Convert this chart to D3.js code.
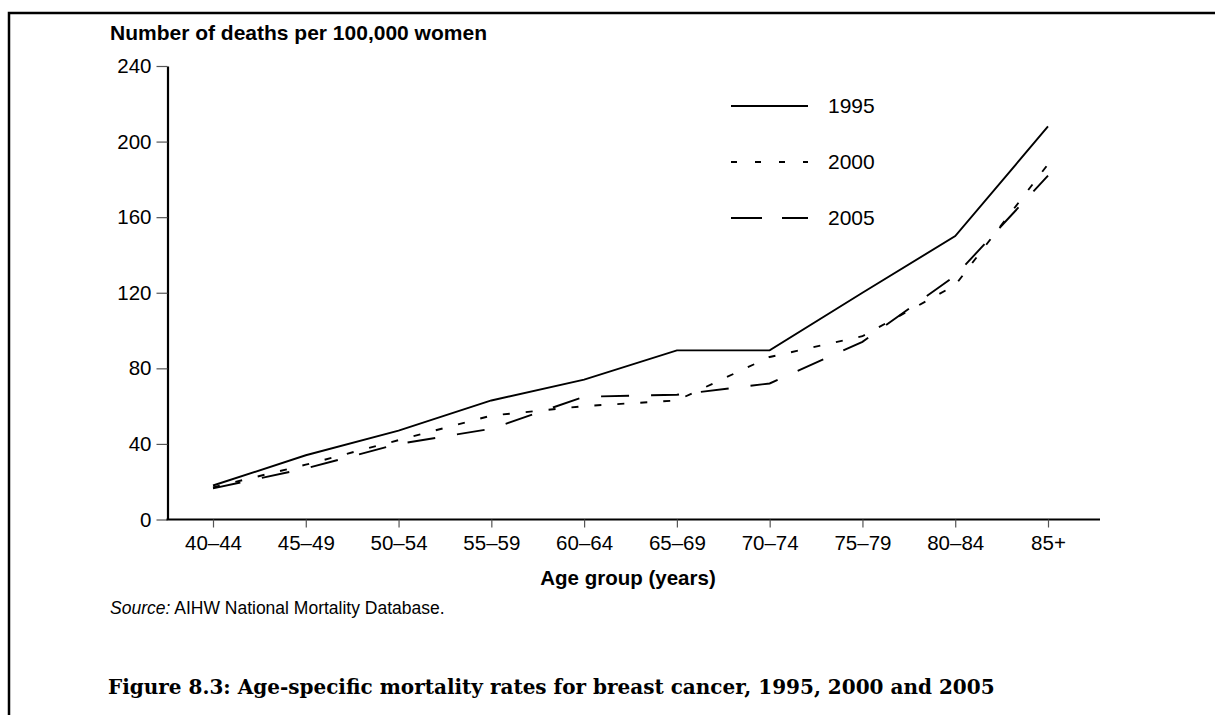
<!DOCTYPE html>
<html>
<head>
<meta charset="utf-8">
<script src="https://cdn.jsdelivr.net/npm/d3@7"></script>
<style>
  html, body { margin: 0; padding: 0; background: #fff; }
  svg { display: block; }
</style>
</head>
<body>
<svg id="chart" width="1215" height="715"></svg>
<script>
// ---- data ----
const ageGroups = ["40–44", "45–49", "50–54", "55–59", "60–64", "65–69", "70–74", "75–79", "80–84", "85+"];
const rates1995 = [18, 34, 47, 63, 74, 89.5, 89.5, 120, 150, 208];
const rates2000 = [17, 29, 42, 55, 60, 63, 86, 97, 124, 188];
const rates2005 = [16.5, 27, 40, 48, 65, 66, 72, 94, 129, 182];
const yTicks = [0, 40, 80, 120, 160, 200, 240];
const seriesNames = ["1995", "2000", "2005"];
const dashStyles = ["none", "7,16", "28,22"];

const series = [rates1995, rates2000, rates2005].map((vals, i) => ({
  name: seriesNames[i], dash: dashStyles[i],
  values: vals.map((v, j) => ({ age: ageGroups[j], v }))
}));

const svg = d3.select("#chart");
const font = "Arial, 'Liberation Sans', sans-serif";

// frame (left + top rule)
svg.append("path")
  .attr("d", d3.line()([[9, 715], [9, 13], [1215, 13]]))
  .attr("fill", "none").attr("stroke", "#000").attr("stroke-width", 2.5);

const axisX0 = 167.5, axisY0 = 519.5;
const x = d3.scalePoint().domain(ageGroups).range([213, 1048]);
const y = d3.scaleLinear().domain([0, 240]).range([axisY0, 66]);

// y axis
const yAxis = svg.append("g").attr("transform", `translate(${axisX0},0)`)
  .call(d3.axisLeft(y).tickValues(yTicks).tickSize(11).tickPadding(5).tickSizeOuter(0));
yAxis.select(".domain").attr("stroke", "#000").attr("stroke-width", 2.2);
yAxis.selectAll(".tick line").attr("stroke", "#555").attr("stroke-width", 1.2);
yAxis.selectAll(".tick text").attr("font-family", font).attr("font-size", 20.5).attr("fill", "#000");

// x axis
const xAxis = svg.append("g").attr("transform", `translate(0,${axisY0})`)
  .call(d3.axisBottom(x).tickSize(8).tickPadding(8).tickSizeOuter(0));
xAxis.select(".domain").attr("d", `M${axisX0 - 1},0H1100`).attr("stroke", "#000").attr("stroke-width", 2.2);
xAxis.selectAll(".tick line").attr("stroke", "#555").attr("stroke-width", 1.2);
xAxis.selectAll(".tick text").attr("font-family", font).attr("font-size", 20.5).attr("fill", "#000");

// lines
const line = d3.line().x(d => x(d.age)).y(d => y(d.v));
svg.append("g").selectAll("path").data(series).join("path")
  .attr("d", d => line(d.values))
  .attr("fill", "none").attr("stroke", "#000").attr("stroke-width", 1.9)
  .attr("stroke-dasharray", d => d.dash === "none" ? null : d.dash);

// legend
const legendY = d3.scalePoint().domain(seriesNames).range([106, 218]);
const lg = svg.append("g").selectAll("g").data(series).join("g")
  .attr("transform", d => `translate(0,${legendY(d.name)})`);
lg.append("line").attr("x1", 731).attr("x2", 808).attr("y1", 0).attr("y2", 0)
  .attr("stroke", "#000").attr("stroke-width", 1.9)
  .attr("stroke-dasharray", (d, i) => i === 1 ? "6,18" : (i === 2 ? "31,20" : null));
lg.append("text").attr("x", 828).attr("y", 0).attr("dy", "0.35em")
  .attr("font-family", font).attr("font-size", 21).text(d => d.name);

// axis titles
svg.append("text").attr("x", 110).attr("y", 40)
  .attr("font-family", font).attr("font-weight", "bold").attr("font-size", 21)
  .text("Number of deaths per 100,000 women");
svg.append("text").attr("x", 628).attr("y", 585).attr("text-anchor", "middle")
  .attr("font-family", font).attr("font-weight", "bold").attr("font-size", 20.5)
  .text("Age group (years)");

// source
const src = svg.append("text").attr("x", 110).attr("y", 614)
  .attr("font-family", font).attr("font-size", 17.5);
src.append("tspan").attr("font-style", "italic").text("Source:");
src.append("tspan").text(" AIHW National Mortality Database.");

// figure caption
svg.append("text").attr("x", 108).attr("y", 694)
  .attr("font-family", "'DejaVu Serif', serif").attr("font-weight", "bold").attr("font-size", 20)
  .text("Figure 8.3: Age-specific mortality rates for breast cancer, 1995, 2000 and 2005");
</script>
</body>
</html>
